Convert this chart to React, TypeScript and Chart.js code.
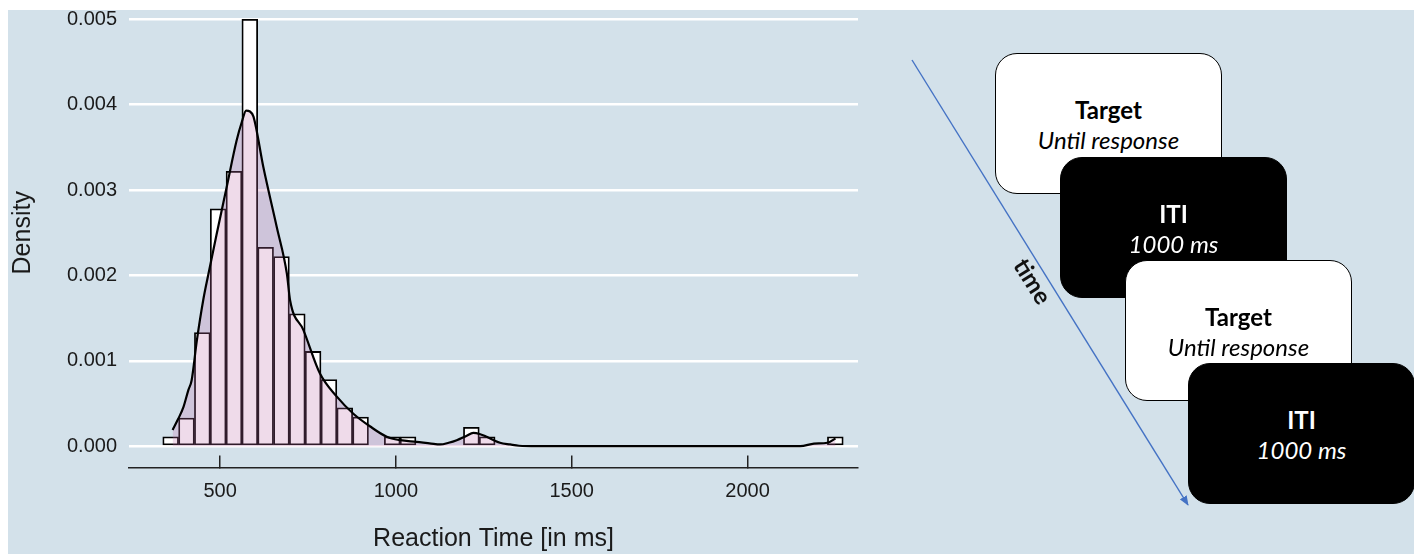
import React, { useEffect, useRef } from "react";
import { Chart, registerables } from "chart.js";

Chart.register(...registerables);

// ---------- chart data ----------
const binCenters = [
  359.5, 404.5, 449.5, 494.5, 539.5, 584.5, 629.5, 674.5, 719.5, 764.5, 809.5,
  854.5, 899.5, 944.5, 989.5, 1034.5, 1079.5, 1124.5, 1169.5, 1214.5, 1259.5,
  1304.5, 1349.5, 1394.5, 1439.5, 1484.5, 1529.5, 1574.5, 1619.5, 1664.5,
  1709.5, 1754.5, 1799.5, 1844.5, 1889.5, 1934.5, 1979.5, 2024.5, 2069.5,
  2114.5, 2159.5, 2204.5, 2249.5,
];
const histDensity = [
  0.00011, 0.00033, 0.00133, 0.00278, 0.00322, 0.005, 0.00233, 0.00222, 0.00155,
  0.00111, 0.00078, 0.00045, 0.00034, 0, 0.00011, 0.00011, 0, 0, 0, 0.00022,
  0.00011, 0, 0, 0, 0, 0, 0, 0, 0, 0, 0, 0, 0, 0, 0, 0, 0, 0, 0, 0, 0, 0,
  0.00011,
];
const curveX = [
  365, 381, 396, 410, 419, 434, 452, 467, 490, 519, 547, 562, 574, 585, 595,
  623, 661, 690, 699, 737, 784, 832, 879, 927, 974, 1012, 1059, 1100, 1126,
  1150, 1173, 1200, 1220, 1240, 1258, 1296, 1325, 1350, 1400, 1800, 2150, 2189,
  2227, 2250,
];
const curveY = [
  0.00019, 0.00032, 0.00046, 0.00066, 0.00077, 0.00124, 0.00171, 0.00202,
  0.00248, 0.00304, 0.00358, 0.0038, 0.00393, 0.00392, 0.00386, 0.00327,
  0.00257, 0.00202, 0.00171, 0.00136, 0.00085, 0.00058, 0.00038, 0.00023,
  0.00011, 0.00007, 0.00005, 0.00003, 0.00002, 0.00004, 0.00007, 0.00012,
  0.000156, 0.00014, 0.00011, 0.00004, 0.00002, 0.000005, 0, 0, 0, 0.00003,
  0.00004, 0.00009,
];
const xTicks = [500, 1000, 1500, 2000];
const yTicks = [0, 0.001, 0.002, 0.003, 0.004, 0.005];
const xTitle = "Reaction Time [in ms]";
const yTitle = "Density";

// ---------- styles ----------
const BG = "#d3e1ea";
const FONT = "'Liberation Sans', Arial, sans-serif";
const TEXT = "#1a1a1a";
const DIAG_FONT = "Lato, 'Open Sans', sans-serif";

const boxes = [
  { left: 987, top: 43, dark: false, title: "Target", sub: "Until response" },
  { left: 1052, top: 147, dark: true, title: "ITI", sub: "1000 ms" },
  { left: 1117, top: 250, dark: false, title: "Target", sub: "Until response" },
  { left: 1180, top: 353, dark: true, title: "ITI", sub: "1000 ms" },
];

export default function App() {
  const ref = useRef<HTMLCanvasElement>(null);

  useEffect(() => {
    if (!ref.current) return;
    const chart = new Chart(ref.current, {
      type: "bar",
      data: {
        datasets: [
          {
            type: "line",
            data: curveX.map((x, i) => ({ x, y: curveY[i] })),
            borderColor: "#000",
            borderWidth: 2.2,
            pointRadius: 0,
            fill: "origin",
            backgroundColor: "rgba(190,110,170,0.25)",
            cubicInterpolationMode: "monotone",
          } as any,
          {
            type: "bar",
            data: binCenters.map((x, i) => ({ x, y: histDensity[i] })),
            backgroundColor: "#ffffff",
            borderColor: "#000",
            borderWidth: 1.8,
            borderSkipped: false,
            barPercentage: 1,
            categoryPercentage: 1,
          } as any,
        ],
      },
      options: {
        responsive: false,
        animation: false,
        layout: { padding: { left: 0, right: 22, top: 0, bottom: 0 } },
        plugins: { legend: { display: false }, tooltip: { enabled: false } },
        scales: {
          x: {
            type: "linear",
            min: 241,
            max: 2314,
            offset: false,
            afterBuildTicks: (s: any) => {
              s.ticks = xTicks.map((v) => ({ value: v }));
            },
            afterFit: (s: any) => {
              s.height = 86.5;
              s.paddingLeft = 0;
              s.paddingRight = 0;
            },
            grid: {
              offset: false,
              drawOnChartArea: false,
              drawTicks: true,
              tickLength: -12,
              color: "#222",
              lineWidth: 1.5,
            },
            border: { display: true, color: "#222", width: 1.5 },
            ticks: {
              padding: 24,
              color: TEXT,
              font: { family: FONT, size: 20 },
              maxRotation: 0,
              autoSkip: false,
              callback: (v: any) => String(v),
            },
            title: {
              display: true,
              text: xTitle,
              color: TEXT,
              font: { family: FONT, size: 25 },
              padding: { top: 0, bottom: 0 },
            },
          },
          y: {
            type: "linear",
            min: -0.00025,
            max: 0.00525,
            afterBuildTicks: (s: any) => {
              s.ticks = yTicks.map((v) => ({ value: v }));
            },
            afterFit: (s: any) => {
              s.width = 121;
              s.paddingTop = 0;
              s.paddingBottom = 0;
            },
            grid: { color: "#ffffff", lineWidth: 2.5, drawTicks: false },
            border: { display: false },
            ticks: {
              padding: 12,
              color: TEXT,
              font: { family: FONT, size: 20 },
              callback: (v: any) => Number(v).toFixed(3),
            },
            title: {
              display: true,
              text: yTitle,
              color: TEXT,
              font: { family: FONT, size: 25 },
              padding: { top: 0, bottom: 0 },
            },
          },
        },
      },
    });
    return () => chart.destroy();
  }, []);

  return (
    <div style={{ position: "relative", width: 1406, height: 546 }}>
      <div
        style={{
          position: "absolute",
          left: 0,
          top: 2,
          width: 1406,
          height: 544,
          background: BG,
          overflow: "hidden",
        }}
      >
        <canvas
          ref={ref}
          width={872}
          height={556}
          style={{ position: "absolute", left: 0, top: -12, width: 872, height: 556 }}
        />
        <svg
          width={1406}
          height={544}
          style={{ position: "absolute", left: 0, top: 0 }}
        >
          <defs>
            <marker
              id="ah"
              markerWidth="10"
              markerHeight="8"
              refX="9"
              refY="4"
              orient="auto"
              markerUnits="userSpaceOnUse"
            >
              <path d="M0,0 L10,4 L0,8 z" fill="#4472c4" />
            </marker>
          </defs>
          <line
            x1={904}
            y1={50}
            x2={1180}
            y2={495}
            stroke="#4472c4"
            strokeWidth={1.4}
            markerEnd="url(#ah)"
          />
        </svg>
        {boxes.map((b, i) => (
          <div
            key={i}
            style={{
              position: "absolute",
              left: b.left,
              top: b.top,
              width: 227,
              height: 141,
              boxSizing: "border-box",
              borderRadius: 22,
              background: b.dark ? "#000" : "#fff",
              border: "1.5px solid #000",
              color: b.dark ? "#fff" : "#000",
              fontFamily: DIAG_FONT,
              fontSize: 24,
              lineHeight: "30px",
              textAlign: "center",
              paddingTop: 41,
            }}
          >
            <div style={{ fontWeight: 700 }}>{b.title}</div>
            <div style={{ fontStyle: "italic" }}>{b.sub}</div>
          </div>
        ))}
        <div
          style={{
            position: "absolute",
            left: 1025,
            top: 271,
            transform: "translate(-50%, -50%) rotate(58deg)",
            fontFamily: DIAG_FONT,
            fontSize: 24,
            fontWeight: 700,
            color: "#111",
            whiteSpace: "nowrap",
            lineHeight: "28px",
          }}
        >
          time
        </div>
      </div>
    </div>
  );
}
